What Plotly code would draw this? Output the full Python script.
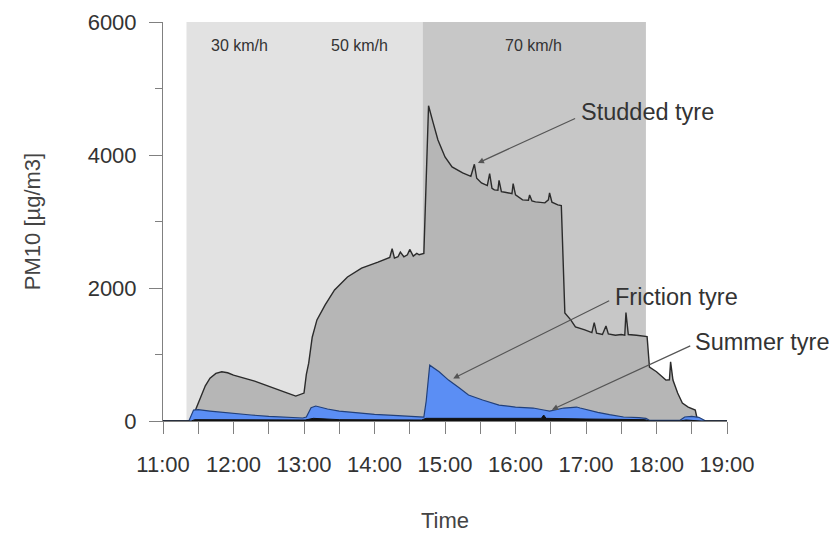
import plotly.graph_objects as go
import pandas as pd

DAY = "2000-01-01 "

# ---- data ----
studded_time = ["11:00", "11:24", "11:28", "11:32", "11:36", "11:40", "11:45", "11:50", "11:55",
                "12:00", "12:06", "12:12", "12:18", "12:23", "12:28", "12:34", "12:40", "12:46",
                "12:53", "12:59", "13:00", "13:02", "13:04", "13:07", "13:11", "13:18", "13:26",
                "13:37", "13:49", "14:03", "14:13", "14:15", "14:17", "14:20", "14:22", "14:25",
                "14:28", "14:30", "14:33", "14:36", "14:38", "14:42", "14:44", "14:46", "14:50",
                "14:54", "15:00", "15:06", "15:15", "15:22", "15:25", "15:27", "15:31", "15:34",
                "15:36", "15:38", "15:40", "15:42", "15:45", "15:46", "15:48", "15:51", "15:54",
                "15:57", "15:58", "16:00", "16:06", "16:11", "16:12", "16:14", "16:17", "16:25",
                "16:28", "16:29", "16:31", "16:36", "16:39", "16:40", "16:42", "16:47", "16:51",
                "16:59", "17:05", "17:07", "17:09", "17:14", "17:17", "17:19", "17:25", "17:30",
                "17:33", "17:34", "17:36", "17:43", "17:48", "17:52", "17:54", "18:00", "18:08",
                "18:11", "18:12", "18:14", "18:18", "18:22", "18:27", "18:33", "18:35", "19:00"]
studded_pm10 = [0, 0, 180, 360, 530, 645, 715, 740, 725,
                690, 665, 630, 600, 570, 540, 500, 460, 420,
                375, 410, 420, 700, 870, 1260, 1520, 1745, 1970,
                2165, 2300, 2390, 2460, 2590, 2450, 2470, 2540, 2470,
                2500, 2580, 2480, 2520, 2500, 2520, 3800, 4740, 4480,
                4225, 3970, 3820, 3730, 3680, 3860, 3650, 3580, 3560,
                3540, 3720, 3500, 3475, 3470, 3620, 3450, 3440, 3430,
                3420, 3570, 3400, 3325, 3320, 3400, 3310, 3295, 3280,
                3325, 3430, 3290, 3250, 3240, 2600, 1625, 1520, 1415,
                1370, 1330, 1480, 1320, 1300, 1430, 1310, 1290, 1300,
                1290, 1630, 1300, 1290, 1280, 1270, 810, 740, 615,
                620, 890, 615, 420, 270, 210, 165, 0, 0]

friction_time = ["11:00", "11:22", "11:26", "11:30", "11:40", "11:50", "12:00", "12:15", "12:30",
                 "12:45", "12:59", "13:02", "13:06", "13:10", "13:20", "13:30", "13:45", "14:00",
                 "14:20", "14:42", "14:44", "14:47", "14:55", "15:03", "15:12", "15:20", "15:32",
                 "15:46", "16:00", "16:15", "16:24", "16:29", "16:41", "16:52", "16:55", "17:00",
                 "17:10", "17:20", "17:32", "17:45", "17:51", "17:54", "18:20", "18:24", "18:30",
                 "18:36", "18:42", "19:00"]
friction_pm10 = [0, 0, 165, 170, 150, 130, 110, 90, 70,
                 55, 45, 60, 200, 225, 180, 150, 120, 100,
                 80, 60, 300, 840, 740, 615, 500, 390, 315,
                 240, 210, 195, 165, 150, 195, 210, 195, 170,
                 130, 95, 60, 50, 40, 10, 10, 60, 70,
                 55, 0, 0]

summer_time = ["11:00", "11:24", "11:27", "12:00", "12:59", "13:01", "13:08", "13:30", "14:40",
               "14:44", "15:00", "16:00", "16:22", "16:24", "16:26", "17:00", "17:50", "17:54",
               "18:20", "18:25", "18:38", "19:00"]
summer_pm10 = [0, 0, 20, 15, 10, 15, 40, 20, 15,
               40, 40, 35, 40, 90, 40, 30, 20, 0,
               0, 15, 0, 0]

speed_labels = ["30 km/h", "50 km/h", "70 km/h"]
speed_start = ["11:20", "13:00", "14:41"]
speed_end = ["13:00", "14:41", "17:51"]
speed_label_time = ["12:05", "13:47", "16:15"]
speed_colors = ["#e2e2e2", "#e2e2e2", "#c7c7c7"]

series_names = ["Studded tyre", "Friction tyre", "Summer tyre"]
# arrow head point, arrow tail point and text anchor (time, value)
arrow_head = [("15:28", 3880), ("15:07", 640), ("16:31", 170)]
arrow_tail = [("16:52", 4560), ("17:21", 1820), ("18:30", 1140)]
text_pos = [("16:54", 4650), ("17:23", 1870), ("18:31", 1190)]

x_ticks = ["11:00", "12:00", "13:00", "14:00", "15:00", "16:00", "17:00", "18:00", "19:00"]
y_ticks = [0, 2000, 4000, 6000]


def T(s):
    return pd.to_datetime(DAY + s)


def TL(lst):
    return [T(s) for s in lst]


FONT = "Liberation Sans, Arial, sans-serif"

fig = go.Figure()

fig.add_trace(go.Scatter(x=TL(studded_time), y=studded_pm10, mode="lines", fill="tozeroy",
                         fillcolor="#b6b6b6", line=dict(color="#2b2b2b", width=1.4),
                         name=series_names[0], showlegend=False))
fig.add_trace(go.Scatter(x=TL(friction_time), y=friction_pm10, mode="lines", fill="tozeroy",
                         fillcolor="#5b8ef4", line=dict(color="#22407a", width=1.2),
                         name=series_names[1], showlegend=False))
fig.add_trace(go.Scatter(x=TL(summer_time), y=summer_pm10, mode="lines", fill="tozeroy",
                         fillcolor="#111111", line=dict(color="#111111", width=1),
                         name=series_names[2], showlegend=False))

shapes = []
for s, e, c in zip(speed_start, speed_end, speed_colors):
    shapes.append(dict(type="rect", xref="x", yref="y", x0=T(s), x1=T(e), y0=0, y1=6000,
                       fillcolor=c, line=dict(width=0), layer="below"))

annotations = []
for lab, t in zip(speed_labels, speed_label_time):
    annotations.append(dict(x=T(t), y=5650, xref="x", yref="y", text=lab, showarrow=False,
                            font=dict(family=FONT, size=16, color="#333333")))
for name, h, tl, tp in zip(series_names, arrow_head, arrow_tail, text_pos):
    annotations.append(dict(x=T(h[0]), y=h[1], ax=T(tl[0]), ay=tl[1], axref="x", ayref="y",
                            xref="x", yref="y", text="", showarrow=True, arrowhead=2,
                            arrowsize=1, arrowwidth=1.2, arrowcolor="#555555"))
    annotations.append(dict(x=T(tp[0]), y=tp[1], xref="x", yref="y", text=name, showarrow=False,
                            xanchor="left", yanchor="middle",
                            font=dict(family=FONT, size=23.5, color="#333333")))

# the page body adds an 8px offset, so the margins compensate for it
fig.update_layout(
    width=837, height=538,
    margin=dict(l=155, r=118, t=14, b=125, autoexpand=False),
    paper_bgcolor="white", plot_bgcolor="white",
    font=dict(family=FONT, size=22, color="#333333"),
    shapes=shapes, annotations=annotations,
    showlegend=False,
)
fig.update_xaxes(
    automargin=False,
    range=[T("11:00"), T("19:00")],
    tickvals=TL(x_ticks), ticktext=x_ticks,
    ticks="outside", ticklen=12, tickcolor="#808080", tickwidth=1,
    minor=dict(dtick=1800000, ticks="outside", ticklen=12, tickcolor="#808080"),
    showline=True, linecolor="#808080", linewidth=1,
    showgrid=False, zeroline=False,
    ticklabelstandoff=12,
    tickfont=dict(family=FONT, size=22, color="#333333"),
    title=dict(text="Time", standoff=36, font=dict(family=FONT, size=22, color="#444444")),
)
fig.update_yaxes(
    automargin=False,
    range=[0, 6000],
    tickvals=y_ticks,
    ticks="outside", ticklen=13, tickcolor="#808080", tickwidth=1,
    minor=dict(dtick=1000, ticks="outside", ticklen=7, tickcolor="#808080"),
    showline=True, linecolor="#808080", linewidth=1,
    showgrid=False, zeroline=False,
    ticklabelstandoff=8,
    tickfont=dict(family=FONT, size=22, color="#333333"),
    title=dict(text="PM10 [µg/m3]", standoff=40, font=dict(family=FONT, size=22, color="#444444")),
)

fig.write_html("out.html")
